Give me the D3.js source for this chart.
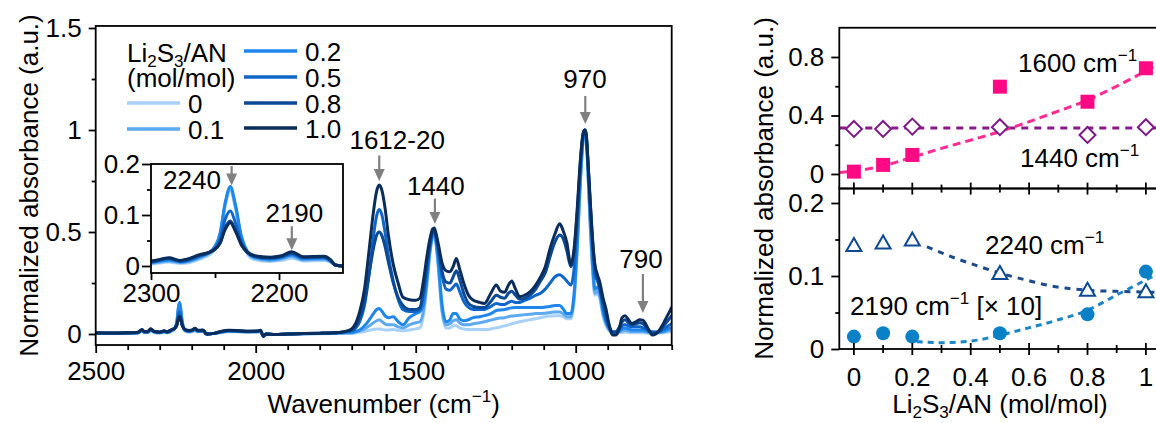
<!DOCTYPE html>
<html>
<head>
<meta charset="utf-8">
<script src="https://cdn.jsdelivr.net/npm/d3@7"></script>
<style>
  body { margin: 0; background: #fff; }
  svg { display: block; font-family: "Liberation Sans", Arial, Helvetica, sans-serif; }
</style>
</head>
<body>
<svg id="chart" width="1156" height="423"></svg>
<script>
// ---------------- FTIR spectra (normalized absorbance) ----------------
// wavenumber grid, cm-1 (2500 -> 1715: nitrile / baseline region, 1700 -> 700: fingerprint)
const wnLow = [
  2500, 2450, 2400, 2370, 2355, 2348, 2338, 2328, 2318, 2300,
  2286, 2277, 2262, 2252, 2246, 2242, 2238, 2234, 2229, 2220,
  2207, 2198, 2190, 2181, 2165, 2160, 2156, 2150, 2130, 2110,
  2085, 2050, 2022, 1995, 1985, 1976, 1968, 1940, 1900, 1850,
  1800, 1760, 1730, 1715];
const wnHigh = [
  1700, 1690, 1675, 1660, 1645, 1632, 1622, 1614, 1605, 1596,
  1585, 1570, 1555, 1540, 1520, 1500, 1487, 1475, 1465, 1455,
  1447, 1442, 1436, 1428, 1418, 1405, 1393, 1383, 1373, 1363,
  1350, 1335, 1320, 1300, 1285, 1265, 1248, 1235, 1222, 1210,
  1200, 1188, 1175, 1160, 1143, 1125, 1110, 1095, 1080, 1065,
  1050, 1040, 1028, 1015, 1005, 995, 987, 980, 975, 971,
  967, 962, 955, 947, 940, 932, 924, 915, 905, 895,
  885, 875, 865, 855, 846, 835, 825, 812, 800, 790,
  780, 770, 760, 750, 740, 730, 720, 710, 700];

// Li2S3/AN = 0
const abs00Low = [
  0.002, 0.002, 0.003, 0.004, 0.012, 0.006, 0.006, 0.015, 0.008, 0.004,
  0.008, 0.005, 0.013, 0.027, 0.058, 0.118, 0.148, 0.112, 0.048, 0.013,
  0.009, 0.011, 0.015, 0.010, 0.011, 0.008, 0.002, 0.000, 0.002, 0.006,
  0.011, 0.010, 0.008, 0.009, 0.011, -0.007, 0.000, -0.003, 0.000, 0.001,
  0.001, 0.002, 0.003, 0.003];
const abs00High = [
  0.003, 0.005, 0.008, 0.012, 0.018, 0.022, 0.025, 0.025, 0.022, 0.020,
  0.020, 0.022, 0.018, 0.016, 0.020, 0.025, 0.030, 0.100, 0.240, 0.400,
  0.465, 0.470, 0.430, 0.300, 0.110, 0.030, 0.030, 0.040, 0.040, 0.030,
  0.025, 0.022, 0.022, 0.022, 0.022, 0.025, 0.030, 0.035, 0.040, 0.045,
  0.050, 0.055, 0.060, 0.065, 0.070, 0.075, 0.080, 0.085, 0.088, 0.090,
  0.090, 0.085, 0.075, 0.075, 0.160, 0.410, 0.680, 0.880, 0.970, 1.000,
  0.960, 0.800, 0.530, 0.300, 0.190, 0.200, 0.170, 0.090, 0.040, 0.015,
  0.005, 0.005, 0.006, 0.008, 0.010, 0.008, 0.006, 0.006, 0.006, 0.006,
  0.005, 0.004, 0.004, 0.004, 0.005, 0.006, 0.008, 0.010, 0.012];

// Li2S3/AN = 0.1
const abs01Low = [
  0.003, 0.003, 0.004, 0.005, 0.015, 0.008, 0.008, 0.018, 0.010, 0.006,
  0.010, 0.007, 0.016, 0.030, 0.062, 0.122, 0.152, 0.117, 0.052, 0.016,
  0.011, 0.014, 0.019, 0.012, 0.013, 0.009, 0.002, 0.000, 0.003, 0.008,
  0.013, 0.012, 0.010, 0.011, 0.013, -0.008, 0.000, -0.003, 0.000, 0.001,
  0.002, 0.003, 0.004, 0.005];
const abs01High = [
  0.005, 0.008, 0.015, 0.025, 0.040, 0.055, 0.065, 0.070, 0.060, 0.050,
  0.045, 0.045, 0.035, 0.030, 0.045, 0.055, 0.060, 0.120, 0.250, 0.410,
  0.475, 0.480, 0.440, 0.310, 0.120, 0.045, 0.050, 0.065, 0.070, 0.055,
  0.045, 0.045, 0.050, 0.055, 0.060, 0.068, 0.075, 0.078, 0.080, 0.085,
  0.088, 0.090, 0.092, 0.095, 0.097, 0.100, 0.100, 0.102, 0.105, 0.108,
  0.108, 0.100, 0.085, 0.085, 0.180, 0.430, 0.700, 0.890, 0.975, 1.000,
  0.960, 0.800, 0.550, 0.320, 0.200, 0.210, 0.180, 0.100, 0.050, 0.020,
  0.008, 0.008, 0.010, 0.015, 0.018, 0.015, 0.012, 0.012, 0.012, 0.012,
  0.010, 0.008, 0.007, 0.006, 0.007, 0.008, 0.012, 0.016, 0.020];

// Li2S3/AN = 0.2
const abs02Low = [
  0.004, 0.004, 0.005, 0.006, 0.017, 0.009, 0.009, 0.020, 0.011, 0.007,
  0.012, 0.008, 0.018, 0.032, 0.065, 0.125, 0.156, 0.120, 0.055, 0.018,
  0.013, 0.016, 0.022, 0.014, 0.015, 0.010, 0.002, 0.000, 0.003, 0.009,
  0.015, 0.013, 0.011, 0.012, 0.015, -0.009, 0.000, -0.003, 0.000, 0.001,
  0.003, 0.004, 0.006, 0.008];
const abs02High = [
  0.008, 0.012, 0.020, 0.040, 0.070, 0.100, 0.120, 0.125, 0.110, 0.090,
  0.080, 0.085, 0.060, 0.045, 0.080, 0.100, 0.110, 0.150, 0.270, 0.420,
  0.485, 0.490, 0.450, 0.330, 0.150, 0.060, 0.070, 0.100, 0.100, 0.075,
  0.065, 0.070, 0.080, 0.085, 0.090, 0.100, 0.115, 0.118, 0.120, 0.125,
  0.128, 0.130, 0.130, 0.130, 0.130, 0.130, 0.130, 0.132, 0.135, 0.140,
  0.140, 0.125, 0.100, 0.100, 0.200, 0.450, 0.720, 0.900, 0.980, 1.000,
  0.960, 0.820, 0.580, 0.350, 0.220, 0.230, 0.200, 0.120, 0.060, 0.025,
  0.010, 0.010, 0.015, 0.025, 0.030, 0.025, 0.020, 0.020, 0.020, 0.020,
  0.015, 0.010, 0.010, 0.008, 0.010, 0.012, 0.018, 0.025, 0.030];

// Li2S3/AN = 0.5
const abs05Low = [
  0.005, 0.004, 0.005, 0.006, 0.019, 0.010, 0.010, 0.022, 0.012, 0.008,
  0.014, 0.009, 0.020, 0.030, 0.052, 0.092, 0.108, 0.085, 0.045, 0.019,
  0.015, 0.018, 0.024, 0.016, 0.017, 0.011, 0.002, 0.000, 0.003, 0.010,
  0.016, 0.014, 0.012, 0.013, 0.016, -0.010, 0.000, -0.003, 0.000, 0.002,
  0.003, 0.005, 0.008, 0.011];
const abs05High = [
  0.015, 0.025, 0.060, 0.140, 0.300, 0.480, 0.580, 0.610, 0.580, 0.500,
  0.380, 0.260, 0.170, 0.120, 0.110, 0.110, 0.120, 0.200, 0.320, 0.440,
  0.495, 0.500, 0.470, 0.390, 0.290, 0.220, 0.215, 0.230, 0.245, 0.210,
  0.160, 0.130, 0.120, 0.120, 0.120, 0.135, 0.150, 0.145, 0.145, 0.155,
  0.160, 0.155, 0.155, 0.165, 0.175, 0.190, 0.200, 0.220, 0.250, 0.280,
  0.290, 0.280, 0.260, 0.240, 0.320, 0.550, 0.780, 0.930, 0.990, 1.000,
  0.970, 0.850, 0.640, 0.420, 0.290, 0.260, 0.220, 0.140, 0.070, 0.030,
  0.010, 0.010, 0.020, 0.040, 0.045, 0.040, 0.035, 0.035, 0.035, 0.030,
  0.025, 0.015, 0.010, 0.010, 0.012, 0.020, 0.030, 0.040, 0.050];

// Li2S3/AN = 0.8
const abs08Low = [
  0.005, 0.005, 0.006, 0.007, 0.020, 0.011, 0.011, 0.024, 0.013, 0.009,
  0.015, 0.010, 0.021, 0.029, 0.046, 0.075, 0.088, 0.070, 0.040, 0.020,
  0.016, 0.019, 0.026, 0.017, 0.018, 0.012, 0.002, 0.000, 0.003, 0.011,
  0.017, 0.015, 0.013, 0.014, 0.017, -0.011, 0.000, -0.003, 0.000, 0.002,
  0.004, 0.006, 0.009, 0.013];
const abs08High = [
  0.020, 0.035, 0.080, 0.160, 0.300, 0.420, 0.485, 0.500, 0.480, 0.430,
  0.350, 0.250, 0.180, 0.140, 0.120, 0.120, 0.130, 0.220, 0.340, 0.450,
  0.500, 0.505, 0.480, 0.410, 0.310, 0.255, 0.250, 0.280, 0.310, 0.270,
  0.200, 0.150, 0.135, 0.130, 0.130, 0.160, 0.190, 0.180, 0.175, 0.200,
  0.210, 0.190, 0.170, 0.175, 0.190, 0.220, 0.260, 0.300, 0.380, 0.450,
  0.485, 0.470, 0.410, 0.330, 0.400, 0.600, 0.800, 0.940, 0.990, 1.000,
  0.970, 0.850, 0.660, 0.460, 0.330, 0.270, 0.220, 0.160, 0.100, 0.040,
  0.010, 0.010, 0.030, 0.060, 0.070, 0.055, 0.045, 0.050, 0.055, 0.050,
  0.035, 0.015, 0.005, 0.005, 0.012, 0.030, 0.050, 0.070, 0.090];

// Li2S3/AN = 1.0
const abs10Low = [
  0.006, 0.005, 0.006, 0.007, 0.022, 0.012, 0.012, 0.026, 0.014, 0.010,
  0.016, 0.011, 0.022, 0.030, 0.045, 0.072, 0.085, 0.068, 0.040, 0.021,
  0.017, 0.020, 0.028, 0.018, 0.019, 0.013, 0.002, 0.000, 0.003, 0.012,
  0.018, 0.016, 0.014, 0.015, 0.018, -0.012, 0.000, -0.003, 0.000, 0.002,
  0.004, 0.006, 0.010, 0.015];
const abs10High = [
  0.025, 0.045, 0.110, 0.220, 0.420, 0.600, 0.700, 0.730, 0.700, 0.620,
  0.480, 0.340, 0.250, 0.180, 0.168, 0.165, 0.175, 0.270, 0.380, 0.470,
  0.515, 0.520, 0.490, 0.430, 0.350, 0.310, 0.305, 0.330, 0.370, 0.320,
  0.250, 0.190, 0.165, 0.155, 0.150, 0.200, 0.240, 0.210, 0.205, 0.240,
  0.260, 0.220, 0.183, 0.190, 0.207, 0.240, 0.280, 0.330, 0.420, 0.490,
  0.540, 0.510, 0.450, 0.340, 0.420, 0.620, 0.820, 0.950, 0.995, 1.000,
  0.980, 0.860, 0.660, 0.450, 0.340, 0.290, 0.250, 0.180, 0.120, 0.040,
  -0.005, -0.005, 0.020, 0.080, 0.090, 0.070, 0.052, 0.060, 0.070, 0.068,
  0.045, 0.015, -0.005, 0.000, 0.015, 0.040, 0.070, 0.100, 0.130];

const ratioLabels = ["0", "0.1", "0.2", "0.5", "0.8", "1.0"];
const ratioColors = ["#a9d1f7", "#5eaaf0", "#1f86ec", "#0f66c9", "#0b4a96", "#0a2d5c"];
const spectraValues = [
  abs00Low.concat(abs00High), abs01Low.concat(abs01High), abs02Low.concat(abs02High),
  abs05Low.concat(abs05High), abs08Low.concat(abs08High), abs10Low.concat(abs10High)];
const wavenumbers = wnLow.concat(wnHigh);

// main-panel ticks
const mainXMajor = [2500, 2000, 1500, 1000];
const mainXMinor = [2400, 2300, 2200, 2100, 1900, 1800, 1700, 1600, 1400, 1300, 1200, 1100, 900, 800, 700];
const mainYMajor = [0, 0.5, 1, 1.5];
const mainYMinor = [0.25, 0.75, 1.25];
const insetXMajor = [2300, 2200];
const insetXMinor = [2250];
const insetYMajor = [0, 0.1, 0.2];
const insetYMinor = [0.05, 0.15];

// ---------------- Peak intensities vs. Li2S3/AN ----------------
const ratios = [0, 0.1, 0.2, 0.5, 0.8, 1];
const int1600 = [0.016, 0.062, 0.13, 0.597, 0.494, 0.723];
const int1440 = [0.308, 0.308, 0.324, 0.32, 0.267, 0.32];
const int2240 = [0.1425, 0.146, 0.15, 0.104, 0.081, 0.079];
const int2190x10 = [0.017, 0.0215, 0.017, 0.0215, 0.0475, 0.106];
// guide-to-the-eye curves [ratio, value]
const guide1600 = [[-0.05, 0.01], [0.1, 0.055], [0.2, 0.115], [0.3, 0.175], [0.5, 0.29], [0.7, 0.43], [0.8, 0.505], [0.9, 0.6], [1.0, 0.705], [1.05, 0.76]];
const guide1440 = [[-0.05, 0.315], [1.05, 0.315]];
const guide2240 = [[0.25, 0.14], [0.35, 0.124], [0.43, 0.113], [0.5, 0.104], [0.59, 0.0945], [0.68, 0.086], [0.8, 0.0805], [0.9, 0.079], [1.0, 0.078], [1.05, 0.0775]];
const guide2190 = [[0.215, 0.01], [0.3, 0.0087], [0.41, 0.0114], [0.5, 0.019], [0.59, 0.028], [0.7, 0.04], [0.8, 0.053], [0.9, 0.074], [1.0, 0.0945], [1.05, 0.105]];
const rightXMajor = [0, 0.2, 0.4, 0.6, 0.8, 1];
const rightXMinor = [0.1, 0.3, 0.5, 0.7, 0.9];
const topYMajor = [0, 0.4, 0.8];
const topYMinor = [0.2, 0.6];
const botYMajor = [0, 0.1, 0.2];
const botYMinor = [0.05, 0.15];

// ---------------- drawing ----------------
const svg = d3.select("#chart");
const FS = 26, FS_SMALL = 17;

function richText(sel, parts) {
  let off = 0;
  parts.forEach(([s, t]) => {
    const target = t === "sub" ? 5 : t === "sup" ? -11 : 0;
    const ts = sel.append("tspan").attr("dy", target - off).text(s);
    if (t) ts.attr("font-size", FS_SMALL);
    off = target;
  });
  return sel;
}
function styleAxis(g) {
  g.attr("font-family", null).attr("font-size", null);
  g.select(".domain").remove();
  g.selectAll(".tick line").attr("stroke", "#000").attr("stroke-width", 1.8);
  g.selectAll(".tick text").attr("font-size", FS).attr("fill", "#000");
}
function arrow(g, x, y0, y1) {
  g.append("line").attr("x1", x).attr("x2", x).attr("y1", y0).attr("y2", y1 - 9)
    .attr("stroke", "#808080").attr("stroke-width", 2.2);
  g.append("path").attr("d", `M${x - 5.5},${y1 - 12}L${x + 5.5},${y1 - 12}L${x},${y1}Z`).attr("fill", "#808080");
}

// ----- main spectrum panel -----
const xMain = d3.scaleLinear().domain([2500, 700]).range([95.7, 671.7]);
const yMain = d3.scaleLinear().domain([0, 1.5]).range([334, 28]);
const mTop = yMain(1.51), mBot = yMain(-0.054);

svg.append("defs").append("clipPath").attr("id", "clipMain")
  .append("rect").attr("x", xMain(2500)).attr("y", mTop).attr("width", xMain(700) - xMain(2500)).attr("height", mBot - mTop);

const lineMain = d3.line().x(d => xMain(d[0])).y(d => yMain(d[1])).curve(d3.curveMonotoneX);
const gSpec = svg.append("g").attr("clip-path", "url(#clipMain)");
spectraValues.forEach((vals, i) => {
  gSpec.append("path").datum(d3.zip(wavenumbers, vals)).attr("d", lineMain)
    .attr("fill", "none").attr("stroke", ratioColors[i]).attr("stroke-width", 3)
    .attr("stroke-linejoin", "round").attr("stroke-linecap", "round");
});

svg.append("rect").attr("x", xMain(2500)).attr("y", mTop).attr("width", xMain(700) - xMain(2500)).attr("height", mBot - mTop)
  .attr("fill", "none").attr("stroke", "#000").attr("stroke-width", 1.8);

styleAxis(svg.append("g").attr("transform", `translate(0,${mBot})`)
  .call(d3.axisBottom(xMain).tickValues(mainXMajor).tickSize(8).tickPadding(9).tickFormat(d3.format("d"))));
styleAxis(svg.append("g").attr("transform", `translate(0,${mBot})`)
  .call(d3.axisBottom(xMain).tickValues(mainXMinor).tickSize(5).tickFormat("")));
styleAxis(svg.append("g").attr("transform", `translate(${xMain(2500)},0)`)
  .call(d3.axisLeft(yMain).tickValues(mainYMajor).tickSize(7).tickPadding(7).tickFormat(d => String(d))));
styleAxis(svg.append("g").attr("transform", `translate(${xMain(2500)},0)`)
  .call(d3.axisLeft(yMain).tickValues(mainYMinor).tickSize(4).tickFormat("")));

richText(svg.append("text").attr("x", (xMain(2500) + xMain(700)) / 2).attr("y", 413)
  .attr("text-anchor", "middle").attr("font-size", FS), [["Wavenumber (cm", ""], ["\u22121", "sup"], [")", ""]]);
svg.append("text").attr("transform", `translate(38,${(mTop + mBot) / 2}) rotate(-90)`)
  .attr("text-anchor", "middle").attr("font-size", FS).text("Normalized absorbance (a.u.)");

// peak annotations
const gAnn = svg.append("g");
const peakNotes = [
  { text: "1612-20", tx: 1558, ty: 0.907, ax: 1614, a0: 0.875, a1: 0.75 },
  { text: "1440", tx: 1437, ty: 0.681, ax: 1440, a0: 0.664, a1: 0.539 },
  { text: "970", tx: 971, ty: 1.206, ax: 970, a0: 1.167, a1: 1.03 },
  { text: "790", tx: 796, ty: 0.324, ax: 790, a0: 0.294, a1: 0.103 }
];
peakNotes.forEach(p => {
  gAnn.append("text").attr("x", xMain(p.tx)).attr("y", yMain(p.ty)).attr("text-anchor", "middle")
    .attr("font-size", FS).text(p.text);
  arrow(gAnn, xMain(p.ax), yMain(p.a0), yMain(p.a1));
});

// legend
const gLeg = svg.append("g");
richText(gLeg.append("text").attr("x", 127).attr("y", 62).attr("font-size", FS),
  [["Li", ""], ["2", "sub"], ["S", ""], ["3", "sub"], ["/AN", ""]]);
gLeg.append("text").attr("x", 127).attr("y", 87).attr("font-size", FS).text("(mol/mol)");
const legPos = [[127, 103], [127, 129], [244, 51], [244, 77], [244, 103], [244, 128]];
ratioLabels.forEach((lab, i) => {
  const [lx, ly] = legPos[i];
  gLeg.append("line").attr("x1", lx).attr("x2", lx + 53).attr("y1", ly).attr("y2", ly)
    .attr("stroke", ratioColors[i]).attr("stroke-width", 3.5);
  gLeg.append("text").attr("x", lx + 61).attr("y", ly + 9.5).attr("font-size", FS).text(lab);
});

// ----- inset: nitrile region -----
const xIn = d3.scaleLinear().domain([2300, 2150]).range([151, 343]);
const yIn = d3.scaleLinear().domain([0, 0.2]).range([266, 164]);
const iTop = yIn(0.2), iBot = yIn(-0.0137);
svg.select("defs").append("clipPath").attr("id", "clipInset")
  .append("rect").attr("x", xIn(2300)).attr("y", iTop).attr("width", xIn(2150) - xIn(2300)).attr("height", iBot - iTop);
svg.append("rect").attr("x", xIn(2300)).attr("y", iTop).attr("width", xIn(2150) - xIn(2300)).attr("height", iBot - iTop)
  .attr("fill", "#fff");
const lineIn = d3.line().x(d => xIn(d[0])).y(d => yIn(d[1])).curve(d3.curveMonotoneX);
const gIn = svg.append("g").attr("clip-path", "url(#clipInset)");
spectraValues.forEach((vals, i) => {
  gIn.append("path").datum(d3.zip(wavenumbers, vals).filter(d => d[0] >= 2100 && d[0] <= 2350)).attr("d", lineIn)
    .attr("fill", "none").attr("stroke", ratioColors[i]).attr("stroke-width", 3)
    .attr("stroke-linejoin", "round");
});
svg.append("rect").attr("x", xIn(2300)).attr("y", iTop).attr("width", xIn(2150) - xIn(2300)).attr("height", iBot - iTop)
  .attr("fill", "none").attr("stroke", "#000").attr("stroke-width", 1.8);
styleAxis(svg.append("g").attr("transform", `translate(0,${iBot})`)
  .call(d3.axisBottom(xIn).tickValues(insetXMajor).tickSize(7).tickPadding(4).tickFormat(d3.format("d"))));
styleAxis(svg.append("g").attr("transform", `translate(0,${iBot})`)
  .call(d3.axisBottom(xIn).tickValues(insetXMinor).tickSize(5).tickFormat("")));
styleAxis(svg.append("g").attr("transform", `translate(${xIn(2300)},0)`)
  .call(d3.axisLeft(yIn).tickValues(insetYMajor).tickSize(9).tickPadding(2).tickFormat(d => String(d))));
styleAxis(svg.append("g").attr("transform", `translate(${xIn(2300)},0)`)
  .call(d3.axisLeft(yIn).tickValues(insetYMinor).tickSize(4).tickFormat("")));
const insetNotes = [
  { text: "2240", tx: 2268, ty: 0.151, ax: 2237, a0: 0.196, a1: 0.158 },
  { text: "2190", tx: 2188, ty: 0.086, ax: 2190, a0: 0.078, a1: 0.031 }
];
insetNotes.forEach(p => {
  svg.append("text").attr("x", xIn(p.tx)).attr("y", yIn(p.ty)).attr("text-anchor", "middle")
    .attr("font-size", FS).text(p.text);
  arrow(svg, xIn(p.ax), yIn(p.a0), yIn(p.a1));
});

// ----- right panels: intensity vs ratio -----
const xR = d3.scaleLinear().domain([-0.05, 1.05]).range([839.3, 1160.5]);
const yTop = d3.scaleLinear().domain([-0.1, 1.0]).range([188.6, 27.75]);
const yBot = d3.scaleLinear().domain([0, 0.22]).range([349, 188.4]);
const rL = xR(-0.05), rR = xR(1.05);

const guideLine = (ys) => d3.line().x(d => xR(d[0])).y(d => ys(d[1])).curve(d3.curveMonotoneX);
function dashed(data, ys, color, dash) {
  svg.append("path").datum(data).attr("d", guideLine(ys)).attr("fill", "none")
    .attr("stroke", color).attr("stroke-width", 3).attr("stroke-dasharray", dash);
}
dashed(guide1440, yTop, "#8a1a8a", "7,6");
dashed(guide1600, yTop, "#ff2a92", "8,5");
dashed(guide2240, yBot, "#1c4a8a", "6,6");
dashed(guide2190, yBot, "#1a86c8", "6,5");

// frames
svg.append("rect").attr("x", rL).attr("y", yTop(1.0)).attr("width", rR - rL).attr("height", yTop(-0.1) - yTop(1.0))
  .attr("fill", "none").attr("stroke", "#000").attr("stroke-width", 1.8);
svg.append("rect").attr("x", rL).attr("y", yBot(0.22)).attr("width", rR - rL).attr("height", yBot(0) - yBot(0.22))
  .attr("fill", "none").attr("stroke", "#000").attr("stroke-width", 1.8);

// markers
const gMk = svg.append("g");
ratios.forEach((r, i) => {
  gMk.append("rect").attr("x", xR(r) - 7).attr("y", yTop(int1600[i]) - 7).attr("width", 14).attr("height", 14)
    .attr("fill", "#ff0a84");
  const cx = xR(r), cy = yTop(int1440[i]);
  gMk.append("path").attr("d", `M${cx},${cy - 8}L${cx + 8},${cy}L${cx},${cy + 8}L${cx - 8},${cy}Z`)
    .attr("fill", "#fff").attr("stroke", "#7d1a86").attr("stroke-width", 2);
  const tx = xR(r), ty = yBot(int2240[i]);
  gMk.append("path").attr("d", `M${tx},${ty - 7}L${tx + 7.5},${ty + 6}L${tx - 7.5},${ty + 6}Z`)
    .attr("fill", "#fff").attr("stroke", "#0d4a8f").attr("stroke-width", 2);
  gMk.append("circle").attr("cx", xR(r)).attr("cy", yBot(int2190x10[i])).attr("r", 7).attr("fill", "#0a80c6");
});

// right x ticks (crossing both horizontal axes)
[yTop(-0.1), yBot(0)].forEach(yy => {
  rightXMajor.forEach(v => svg.append("line").attr("x1", xR(v)).attr("x2", xR(v)).attr("y1", yy - 6).attr("y2", yy + 6)
    .attr("stroke", "#000").attr("stroke-width", 1.8));
  rightXMinor.forEach(v => svg.append("line").attr("x1", xR(v)).attr("x2", xR(v)).attr("y1", yy - 4).attr("y2", yy + 4)
    .attr("stroke", "#000").attr("stroke-width", 1.8));
});
rightXMajor.forEach(v => svg.append("text").attr("x", xR(v)).attr("y", 386).attr("text-anchor", "middle")
  .attr("font-size", FS).text(String(v)));

styleAxis(svg.append("g").attr("transform", `translate(${rL},0)`)
  .call(d3.axisLeft(yTop).tickValues(topYMajor).tickSize(8).tickPadding(7).tickFormat(d => String(d))));
styleAxis(svg.append("g").attr("transform", `translate(${rL},0)`)
  .call(d3.axisLeft(yTop).tickValues(topYMinor).tickSize(4).tickFormat("")));
styleAxis(svg.append("g").attr("transform", `translate(${rL},0)`)
  .call(d3.axisLeft(yBot).tickValues(botYMajor).tickSize(8).tickPadding(7).tickFormat(d => String(d))));
styleAxis(svg.append("g").attr("transform", `translate(${rL},0)`)
  .call(d3.axisLeft(yBot).tickValues(botYMinor).tickSize(4).tickFormat("")));

// right titles and series labels
richText(svg.append("text").attr("x", xR(0.5)).attr("y", 413).attr("text-anchor", "middle").attr("font-size", FS),
  [["Li", ""], ["2", "sub"], ["S", ""], ["3", "sub"], ["/AN (mol/mol)", ""]]);
svg.append("text").attr("transform", `translate(773,${(yTop(1.0) + yBot(0)) / 2}) rotate(-90)`)
  .attr("text-anchor", "middle").attr("font-size", FS).text("Normalized absorbance (a.u.)");

richText(svg.append("text").attr("x", xR(0.562)).attr("y", yTop(0.697)).attr("font-size", FS),
  [["1600 cm", ""], ["\u22121", "sup"]]);
richText(svg.append("text").attr("x", xR(0.569)).attr("y", yTop(0.048)).attr("font-size", FS),
  [["1440 cm", ""], ["\u22121", "sup"]]);
richText(svg.append("text").attr("x", xR(0.449)).attr("y", yBot(0.130)).attr("font-size", FS),
  [["2240 cm", ""], ["\u22121", "sup"]]);
richText(svg.append("text").attr("x", xR(-0.013)).attr("y", yBot(0.0466)).attr("font-size", FS),
  [["2190 cm", ""], ["\u22121", "sup"], [" [\u00d7 10]", ""]]);
</script>
</body>
</html>
